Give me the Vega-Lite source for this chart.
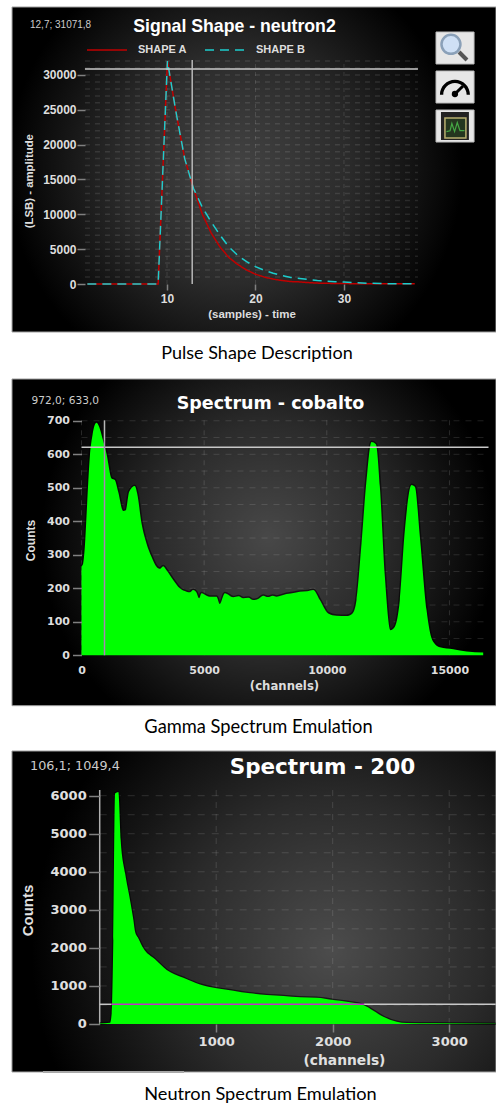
{"$schema":"https://vega.github.io/schema/vega-lite/v6.json","background":"white","padding":0,"autosize":{"type":"none"},"width":496,"height":1105,"config":{"view":{"stroke":null}},
"datasets":{
"pulse":[{"t":1,"a":0,"s":"SHAPE A"},{"t":9,"a":0,"s":"SHAPE A"},{"t":10.05,"a":32000,"s":"SHAPE A"},{"t":11,"a":24800,"s":"SHAPE A"},{"t":12,"a":18000,"s":"SHAPE A"},{"t":13,"a":13700,"s":"SHAPE A"},{"t":14,"a":10000,"s":"SHAPE A"},{"t":15,"a":7300,"s":"SHAPE A"},{"t":16,"a":5300,"s":"SHAPE A"},{"t":17,"a":3800,"s":"SHAPE A"},{"t":18,"a":2800,"s":"SHAPE A"},{"t":19,"a":2000,"s":"SHAPE A"},{"t":20,"a":1400,"s":"SHAPE A"},{"t":21,"a":1000,"s":"SHAPE A"},{"t":22,"a":700,"s":"SHAPE A"},{"t":23,"a":500,"s":"SHAPE A"},{"t":24,"a":350,"s":"SHAPE A"},{"t":25,"a":300,"s":"SHAPE A"},{"t":26,"a":200,"s":"SHAPE A"},{"t":27,"a":130,"s":"SHAPE A"},{"t":28,"a":100,"s":"SHAPE A"},{"t":30,"a":60,"s":"SHAPE A"},{"t":33,"a":30,"s":"SHAPE A"},{"t":38,"a":20,"s":"SHAPE A"},
{"t":1,"a":0,"s":"SHAPE B"},{"t":9,"a":0,"s":"SHAPE B"},{"t":10.05,"a":32000,"s":"SHAPE B"},{"t":11,"a":24800,"s":"SHAPE B"},{"t":12,"a":18000,"s":"SHAPE B"},{"t":13,"a":13700,"s":"SHAPE B"},{"t":14,"a":11000,"s":"SHAPE B"},{"t":15,"a":8900,"s":"SHAPE B"},{"t":16,"a":7000,"s":"SHAPE B"},{"t":17,"a":5300,"s":"SHAPE B"},{"t":18,"a":4100,"s":"SHAPE B"},{"t":19,"a":3200,"s":"SHAPE B"},{"t":20,"a":2500,"s":"SHAPE B"},{"t":21,"a":1950,"s":"SHAPE B"},{"t":22,"a":1550,"s":"SHAPE B"},{"t":23,"a":1200,"s":"SHAPE B"},{"t":24,"a":950,"s":"SHAPE B"},{"t":25,"a":800,"s":"SHAPE B"},{"t":26,"a":650,"s":"SHAPE B"},{"t":27,"a":520,"s":"SHAPE B"},{"t":28,"a":420,"s":"SHAPE B"},{"t":29,"a":340,"s":"SHAPE B"},{"t":30,"a":270,"s":"SHAPE B"},{"t":31,"a":200,"s":"SHAPE B"},{"t":33,"a":100,"s":"SHAPE B"},{"t":35,"a":50,"s":"SHAPE B"},{"t":38,"a":20,"s":"SHAPE B"}],
"cobalt":[{"c":0,"n":265},{"c":68,"n":274},{"c":136,"n":323},{"c":231,"n":453},{"c":340,"n":592},{"c":448,"n":657},{"c":611,"n":694},{"c":720,"n":682},{"c":856,"n":647},{"c":1019,"n":602},{"c":1223,"n":528},{"c":1359,"n":523},{"c":1495,"n":488},{"c":1699,"n":431},{"c":1807,"n":433},{"c":1943,"n":488},{"c":2174,"n":505},{"c":2270,"n":483},{"c":2446,"n":394},{"c":2650,"n":334},{"c":2854,"n":294},{"c":3058,"n":264},{"c":3200,"n":258},{"c":3330,"n":266},{"c":3465,"n":254},{"c":3737,"n":225},{"c":4009,"n":200},{"c":4281,"n":190},{"c":4420,"n":188},{"c":4553,"n":195},{"c":4680,"n":188},{"c":4797,"n":170},{"c":4892,"n":185},{"c":5100,"n":178},{"c":5232,"n":175},{"c":5504,"n":175},{"c":5640,"n":153},{"c":5844,"n":185},{"c":6183,"n":173},{"c":6400,"n":176},{"c":6591,"n":170},{"c":6800,"n":172},{"c":6999,"n":165},{"c":7200,"n":168},{"c":7407,"n":178},{"c":7600,"n":174},{"c":7800,"n":178},{"c":7950,"n":175},{"c":8358,"n":183},{"c":8700,"n":187},{"c":8902,"n":190},{"c":9200,"n":191},{"c":9445,"n":195},{"c":9717,"n":165},{"c":10057,"n":125},{"c":10396,"n":118},{"c":10804,"n":117},{"c":11049,"n":125},{"c":11212,"n":165},{"c":11416,"n":334},{"c":11620,"n":523},{"c":11823,"n":637},{"c":12000,"n":630},{"c":12163,"n":503},{"c":12367,"n":235},{"c":12598,"n":75},{"c":12775,"n":85},{"c":12979,"n":165},{"c":13183,"n":373},{"c":13454,"n":508},{"c":13590,"n":503},{"c":13794,"n":354},{"c":14066,"n":135},{"c":14297,"n":46},{"c":14610,"n":24},{"c":15153,"n":18},{"c":15697,"n":11},{"c":16376,"n":8}],
"neutron":[{"c":0,"n":15},{"c":89,"n":30},{"c":103,"n":280},{"c":117,"n":2200},{"c":132,"n":6060},{"c":160,"n":6100},{"c":180,"n":4835},{"c":218,"n":3960},{"c":260,"n":3260},{"c":289,"n":2730},{"c":303,"n":2430},{"c":332,"n":2250},{"c":375,"n":1990},{"c":475,"n":1700},{"c":575,"n":1420},{"c":718,"n":1215},{"c":861,"n":1040},{"c":1004,"n":940},{"c":1147,"n":876},{"c":1290,"n":806},{"c":1433,"n":762},{"c":1577,"n":736},{"c":1720,"n":700},{"c":1862,"n":692},{"c":2005,"n":630},{"c":2149,"n":570},{"c":2263,"n":500},{"c":2349,"n":350},{"c":2435,"n":190},{"c":2549,"n":60},{"c":2635,"n":26},{"c":2864,"n":18},{"c":3399,"n":9}]
},
"resolve":{"scale":{"x":"independent","y":"independent"},"axis":{"x":"independent","y":"independent"}},
"layer":[
{"data":{"values":[{}]},"layer":[
{"mark":{"type":"rect","stroke":"#a0a0a0","strokeWidth":1,"fill":{"gradient":"radial","x1":0.46,"y1":0.5,"r1":0,"x2":0.46,"y2":0.5,"r2":0.47,"stops":[{"offset":0,"color":"#444444"},{"offset":0.5,"color":"#2b2b2b"},{"offset":1,"color":"#000000"}]}},"encoding":{"x":{"datum":-7.51,"type":"quantitative","scale":{"domain":[-8.87,47.18]}},"x2":{"datum":47.18},"y":{"datum":39760,"type":"quantitative","scale":{"domain":[-117840,40764]}},"y2":{"datum":-6890}}},
{"data":{"values":[{"g":1000},{"g":2000},{"g":3000},{"g":4000},{"g":5000},{"g":6000},{"g":7000},{"g":8000},{"g":9000},{"g":10000},{"g":11000},{"g":12000},{"g":13000},{"g":14000},{"g":15000},{"g":16000},{"g":17000},{"g":18000},{"g":19000},{"g":20000},{"g":21000},{"g":22000},{"g":23000},{"g":24000},{"g":25000},{"g":26000},{"g":27000},{"g":28000},{"g":29000},{"g":30000},{"g":31000},{"g":32000}]},"mark":{"type":"rule","color":"#ffffff","opacity":0.1,"strokeWidth":1.5,"strokeDash":[5,5]},"encoding":{"x":{"datum":0.73,"type":"quantitative","scale":{"domain":[-8.87,47.18]}},"x2":{"datum":38.36},"y":{"field":"g","type":"quantitative","scale":{"domain":[-117840,40764]}}}},
{"data":{"values":[{"g":10},{"g":20},{"g":30}]},"mark":{"type":"rule","color":"#ffffff","opacity":0.12,"strokeDash":[4,4]},"encoding":{"x":{"field":"g","type":"quantitative","scale":{"domain":[-8.87,47.18]}},"y":{"datum":0,"type":"quantitative","scale":{"domain":[-117840,40764]}},"y2":{"datum":32150}}},
{"data":{"name":"pulse"},"mark":{"type":"line","strokeWidth":1.5},"encoding":{"x":{"field":"t","type":"quantitative","scale":{"domain":[-8.87,47.18]},"axis":{"zindex":1,"orient":"bottom","offset":-821,"title":"(samples) - time","titleX":251.5,"titleY":30.7,"titleAlign":"center","titleBaseline":"middle","values":[10,20,30],"grid":false,"domain":false,"tickSize":6,"tickColor":"#808080","tickWidth":1.5,"labelColor":"#dddddd","labelFont":"Liberation Sans","labelFontWeight":"bold","labelFontSize":12,"labelPadding":3,"titleColor":"#dddddd","titleFont":"Liberation Sans","titleFontWeight":"bold","titleFontSize":11.5}},"y":{"field":"a","type":"quantitative","scale":{"domain":[-117840,40764]},"axis":{"zindex":1,"orient":"left","offset":-85,"title":"(LSB) - amplitude","titleX":-56,"titleY":180.7,"titleAlign":"center","titleBaseline":"middle","values":[0,5000,10000,15000,20000,25000,30000],"format":"d","grid":false,"domain":false,"tickSize":8,"tickColor":"#808080","tickWidth":1.5,"labelColor":"#dddddd","labelFont":"Liberation Sans","labelFontWeight":"bold","labelFontSize":12,"labelPadding":1,"titleColor":"#dddddd","titleFont":"Liberation Sans","titleFontWeight":"bold","titleFontSize":11.4}},"color":{"field":"s","type":"nominal","scale":{"domain":["SHAPE A","SHAPE B"],"range":["#c00000","#1ccdcd"]},"legend":{"title":null,"orient":"none","legendX":86,"legendY":29,"direction":"horizontal","symbolType":"stroke","symbolSize":1600,"symbolStrokeWidth":1.5,"labelColor":"#dddddd","labelFont":"Liberation Sans","labelFontWeight":"bold","labelFontSize":11,"labelOffset":10,"columnPadding":15,"zindex":1}},"strokeDash":{"field":"s","type":"nominal","scale":{"domain":["SHAPE A","SHAPE B"],"range":[[1,0],[9,6]]},"legend":{"title":null,"orient":"none","legendX":86,"legendY":29,"direction":"horizontal","symbolType":"stroke","symbolSize":1600,"symbolStrokeWidth":1.5,"labelColor":"#dddddd","labelFont":"Liberation Sans","labelFontWeight":"bold","labelFontSize":11,"labelOffset":10,"columnPadding":15,"zindex":1}}}},
{"mark":{"type":"rule","color":"#c8c8c8","strokeWidth":1.5},"encoding":{"x":{"datum":0.73,"type":"quantitative","scale":{"domain":[-8.87,47.18]}},"x2":{"datum":38.36},"y":{"datum":30860,"type":"quantitative","scale":{"domain":[-117840,40764]}}}},
{"mark":{"type":"rule","color":"#b8b8b8","strokeWidth":1.5},"encoding":{"x":{"datum":12.85,"type":"quantitative","scale":{"domain":[-8.87,47.18]}},"y":{"datum":0,"type":"quantitative","scale":{"domain":[-117840,40764]}},"y2":{"datum":32150}}},
{"mark":{"type":"text","color":"white","font":"Liberation Sans","fontWeight":"bold","fontSize":17.7,"baseline":"middle"},"encoding":{"text":{"value":"Signal Shape - neutron2"},"x":{"datum":17.63,"type":"quantitative","scale":{"domain":[-8.87,47.18]}},"y":{"datum":36890,"type":"quantitative","scale":{"domain":[-117840,40764]}}}},
{"mark":{"type":"text","color":"#cccccc","font":"Liberation Sans","fontSize":10,"align":"left","baseline":"middle"},"encoding":{"text":{"value":"12,7; 31071,8"},"x":{"datum":-5.48,"type":"quantitative","scale":{"domain":[-8.87,47.18]}},"y":{"datum":37170,"type":"quantitative","scale":{"domain":[-117840,40764]}}}},
{"mark":{"type":"text","color":"black","font":"Lato","fontSize":18,"baseline":"middle"},"encoding":{"text":{"value":"Pulse Shape Description"},"x":{"datum":20.17,"type":"quantitative","scale":{"domain":[-8.87,47.18]}},"y":{"datum":-10047,"type":"quantitative","scale":{"domain":[-117840,40764]}}}},
{"data":{"values":[{"x0":40.4,"x1":44.7,"y0":36170,"y1":31580},{"x0":40.4,"x1":44.7,"y0":30570,"y1":25980},{"x0":40.4,"x1":44.7,"y0":24975,"y1":20380}]},"mark":{"type":"rect","fill":"#e6e6e6","stroke":"#bbbbbb"},"encoding":{"x":{"field":"x0","type":"quantitative","scale":{"domain":[-8.87,47.18]}},"x2":{"field":"x1"},"y":{"field":"y0","type":"quantitative","scale":{"domain":[-117840,40764]}},"y2":{"field":"y1"}}},
{"mark":{"type":"rule","color":"#555555","strokeWidth":4},"encoding":{"x":{"datum":43.0,"type":"quantitative","scale":{"domain":[-8.87,47.18]}},"x2":{"datum":43.9},"y":{"datum":33300,"type":"quantitative","scale":{"domain":[-117840,40764]}},"y2":{"datum":32150}}},
{"mark":{"type":"point","shape":"circle","size":360,"fill":"#cfe0f5","stroke":"#8aa0b8","strokeWidth":2.5,"opacity":1},"encoding":{"x":{"datum":42.09,"type":"quantitative","scale":{"domain":[-8.87,47.18]}},"y":{"datum":34400,"type":"quantitative","scale":{"domain":[-117840,40764]}}}},
{"mark":{"type":"point","shape":"M-1,0.25 A1,1 0 1 1 1,0.25 L0.78,0.25 A0.78,0.78 0 1 0 -0.78,0.25 Z","size":900,"filled":true,"color":"#000000","opacity":1},"encoding":{"x":{"datum":42.54,"type":"quantitative","scale":{"domain":[-8.87,47.18]}},"y":{"datum":27700,"type":"quantitative","scale":{"domain":[-117840,40764]}}}},
{"mark":{"type":"rule","color":"#000000","strokeWidth":3},"encoding":{"x":{"datum":42.54,"type":"quantitative","scale":{"domain":[-8.87,47.18]}},"x2":{"datum":43.45},"y":{"datum":27270,"type":"quantitative","scale":{"domain":[-117840,40764]}},"y2":{"datum":28420}}},
{"mark":{"type":"point","shape":"circle","size":40,"filled":true,"color":"#000000","opacity":1},"encoding":{"x":{"datum":42.54,"type":"quantitative","scale":{"domain":[-8.87,47.18]}},"y":{"datum":27270,"type":"quantitative","scale":{"domain":[-117840,40764]}}}},
{"mark":{"type":"rect","fill":"#222222"},"encoding":{"x":{"datum":40.96,"type":"quantitative","scale":{"domain":[-8.87,47.18]}},"x2":{"datum":44.12},"y":{"datum":24690,"type":"quantitative","scale":{"domain":[-117840,40764]}},"y2":{"datum":20670}}},
{"mark":{"type":"rect","fill":"#24361f","stroke":"#b8b070","strokeWidth":1.5},"encoding":{"x":{"datum":41.41,"type":"quantitative","scale":{"domain":[-8.87,47.18]}},"x2":{"datum":43.78},"y":{"datum":23830,"type":"quantitative","scale":{"domain":[-117840,40764]}},"y2":{"datum":20960}}},
{"mark":{"type":"point","shape":"M-1,0.4 L-0.6,0.3 L-0.4,-0.5 L-0.1,0.4 L0.2,-0.6 L0.5,0.3 L1,0.3","size":324,"filled":false,"stroke":"#45a845","strokeWidth":1.2,"opacity":1},"encoding":{"x":{"datum":42.6,"type":"quantitative","scale":{"domain":[-8.87,47.18]}},"y":{"datum":22390,"type":"quantitative","scale":{"domain":[-117840,40764]}}}}
]},
{"data":{"values":[{}]},"layer":[
{"mark":{"type":"rect","stroke":"#a0a0a0","strokeWidth":1,"fill":{"gradient":"radial","x1":0.53,"y1":0.49,"r1":0,"x2":0.53,"y2":0.49,"r2":0.47,"stops":[{"offset":0,"color":"#484848"},{"offset":0.5,"color":"#2b2b2b"},{"offset":1,"color":"#000000"}]}},"encoding":{"x":{"datum":-2833,"type":"quantitative","scale":{"domain":[-3322,16898]}},"x2":{"datum":16898},"y":{"datum":824.8,"type":"quantitative","scale":{"domain":[-1342.4,1956.1]}},"y2":{"datum":-150.4}}},
{"data":{"values":[{"g":50},{"g":100},{"g":150},{"g":200},{"g":250},{"g":300},{"g":350},{"g":400},{"g":450},{"g":500},{"g":550},{"g":600},{"g":650},{"g":700}]},"mark":{"type":"rule","color":"#ffffff","opacity":0.12,"strokeDash":[6,6]},"encoding":{"x":{"datum":0,"type":"quantitative","scale":{"domain":[-3322,16898]}},"x2":{"datum":16592},"y":{"field":"g","type":"quantitative","scale":{"domain":[-1342.4,1956.1]}}}},
{"data":{"values":[{"g":0},{"g":5000},{"g":10000},{"g":15000}]},"mark":{"type":"rule","color":"#ffffff","opacity":0.14,"strokeDash":[5,5]},"encoding":{"x":{"field":"g","type":"quantitative","scale":{"domain":[-3322,16898]}},"y":{"datum":0,"type":"quantitative","scale":{"domain":[-1342.4,1956.1]}},"y2":{"datum":701.5}}},
{"data":{"name":"cobalt"},"mark":{"type":"line","color":"#000000","strokeWidth":3,"opacity":0.6,"interpolate":"monotone"},"encoding":{"x":{"field":"c","type":"quantitative","scale":{"domain":[-3322,16898]}},"y":{"field":"n","type":"quantitative","scale":{"domain":[-1342.4,1956.1]}}}},
{"data":{"name":"cobalt"},"mark":{"type":"area","color":"#00ff00","opacity":1,"interpolate":"monotone"},"encoding":{"x":{"field":"c","type":"quantitative","scale":{"domain":[-3322,16898]},"axis":{"zindex":1,"orient":"bottom","offset":-449.7,"title":"(channels)","titleX":284,"titleY":29.7,"titleAlign":"center","titleBaseline":"middle","values":[0,5000,10000,15000],"format":"d","grid":false,"domain":false,"ticks":false,"tickSize":0,"labelColor":"#dddddd","labelFont":"DejaVu Sans","labelFontWeight":"bold","labelFontSize":11,"labelPadding":9,"titleColor":"#dddddd","titleFont":"DejaVu Sans","titleFontWeight":"bold","titleFontSize":11.7}},"y":{"field":"n","type":"quantitative","scale":{"domain":[-1342.4,1956.1]},"axis":{"zindex":1,"orient":"left","offset":-81.5,"title":"Counts","titleX":-51.5,"titleY":540,"titleAlign":"center","titleBaseline":"middle","values":[0,100,200,300,400,500,600,700],"format":"d","grid":false,"domain":false,"tickSize":9,"tickColor":"#808080","tickWidth":1.5,"labelColor":"#dddddd","labelFont":"DejaVu Sans","labelFontWeight":"bold","labelFontSize":11,"labelPadding":3,"titleColor":"#dddddd","titleFont":"Liberation Sans","titleFontWeight":"bold","titleFontSize":12}}}},
{"mark":{"type":"rule","color":"#c8c8c8","strokeWidth":1.5},"encoding":{"x":{"datum":0,"type":"quantitative","scale":{"domain":[-3322,16898]}},"x2":{"datum":16592},"y":{"datum":621,"type":"quantitative","scale":{"domain":[-1342.4,1956.1]}}}},
{"mark":{"type":"rule","color":"#b8b8b8","strokeWidth":1.5},"encoding":{"x":{"datum":938,"type":"quantitative","scale":{"domain":[-3322,16898]}},"y":{"datum":701.5,"type":"quantitative","scale":{"domain":[-1342.4,1956.1]}},"y2":{"datum":640}}},
{"mark":{"type":"rule","color":"#a884b4","strokeWidth":1.5},"encoding":{"x":{"datum":938,"type":"quantitative","scale":{"domain":[-3322,16898]}},"y":{"datum":640,"type":"quantitative","scale":{"domain":[-1342.4,1956.1]}},"y2":{"datum":0}}},
{"mark":{"type":"text","color":"white","font":"DejaVu Sans","fontWeight":"bold","fontSize":17.5,"baseline":"middle"},"encoding":{"text":{"value":"Spectrum - cobalto"},"x":{"datum":7705,"type":"quantitative","scale":{"domain":[-3322,16898]}},"y":{"datum":751,"type":"quantitative","scale":{"domain":[-1342.4,1956.1]}}}},
{"mark":{"type":"text","color":"#cccccc","font":"DejaVu Sans","fontSize":10.6,"align":"left","baseline":"middle"},"encoding":{"text":{"value":"972,0; 633,0"},"x":{"datum":-2038,"type":"quantitative","scale":{"domain":[-3322,16898]}},"y":{"datum":759,"type":"quantitative","scale":{"domain":[-1342.4,1956.1]}}}},
{"mark":{"type":"text","color":"black","font":"Lato","fontSize":18.3,"baseline":"middle"},"encoding":{"text":{"value":"Gamma Spectrum Emulation"},"x":{"datum":7216,"type":"quantitative","scale":{"domain":[-3322,16898]}},"y":{"datum":-218,"type":"quantitative","scale":{"domain":[-1342.4,1956.1]}}}}
]},
{"data":{"values":[{}]},"layer":[
{"mark":{"type":"rect","stroke":"#a0a0a0","strokeWidth":1,"fill":{"gradient":"radial","x1":0.66,"y1":0.58,"r1":0,"x2":0.66,"y2":0.58,"r2":0.62,"stops":[{"offset":0,"color":"#4c4c4c"},{"offset":0.5,"color":"#2b2b2b"},{"offset":1,"color":"#000000"}]}},"encoding":{"x":{"datum":-753,"type":"quantitative","scale":{"domain":[-855.8,3401.7]}},"x2":{"datum":3401.7},"y":{"datum":7175,"type":"quantitative","scale":{"domain":[-2128.8,26912]}},"y2":{"datum":-1261.5}}},
{"mark":{"type":"rule","color":"#a8a8a8","strokeWidth":2},"encoding":{"x":{"datum":-487,"type":"quantitative","scale":{"domain":[-855.8,3401.7]}},"x2":{"datum":724},"y":{"datum":-1261.5,"type":"quantitative","scale":{"domain":[-2128.8,26912]}}}},
{"data":{"values":[{"g":500},{"g":1000},{"g":1500},{"g":2000},{"g":2500},{"g":3000},{"g":3500},{"g":4000},{"g":4500},{"g":5000},{"g":5500},{"g":6000}]},"mark":{"type":"rule","color":"#ffffff","opacity":0.13,"strokeDash":[7,7]},"encoding":{"x":{"datum":0,"type":"quantitative","scale":{"domain":[-855.8,3401.7]}},"x2":{"datum":3399},"y":{"field":"g","type":"quantitative","scale":{"domain":[-2128.8,26912]}}}},
{"data":{"values":[{"g":1000},{"g":2000},{"g":3000}]},"mark":{"type":"rule","color":"#ffffff","opacity":0.13,"strokeDash":[6,6]},"encoding":{"x":{"field":"g","type":"quantitative","scale":{"domain":[-855.8,3401.7]}},"y":{"datum":0,"type":"quantitative","scale":{"domain":[-2128.8,26912]}},"y2":{"datum":6150}}},
{"mark":{"type":"rule","color":"#b0b0b0","strokeWidth":1.5},"encoding":{"x":{"datum":0,"type":"quantitative","scale":{"domain":[-855.8,3401.7]}},"y":{"datum":0,"type":"quantitative","scale":{"domain":[-2128.8,26912]}},"y2":{"datum":6150}}},
{"data":{"name":"neutron"},"mark":{"type":"line","color":"#000000","strokeWidth":2.5,"opacity":0.6,"interpolate":"monotone"},"encoding":{"x":{"field":"c","type":"quantitative","scale":{"domain":[-855.8,3401.7]}},"y":{"field":"n","type":"quantitative","scale":{"domain":[-2128.8,26912]}}}},
{"data":{"name":"neutron"},"mark":{"type":"area","color":"#00ff00","opacity":1,"interpolate":"monotone"},"encoding":{"x":{"field":"c","type":"quantitative","scale":{"domain":[-855.8,3401.7]},"axis":{"zindex":1,"orient":"bottom","offset":-81,"title":"(channels)","titleX":344,"titleY":36.7,"titleAlign":"center","titleBaseline":"middle","values":[1000,2000,3000],"format":"d","grid":false,"domain":false,"tickSize":8,"tickColor":"#808080","tickWidth":1.5,"labelColor":"#e0e0e0","labelFont":"DejaVu Sans","labelFontWeight":"bold","labelFontSize":13,"labelPadding":3,"titleColor":"#e0e0e0","titleFont":"DejaVu Sans","titleFontWeight":"bold","titleFontSize":13.8}},"y":{"field":"n","type":"quantitative","scale":{"domain":[-2128.8,26912]},"axis":{"zindex":1,"orient":"left","offset":-99.7,"title":"Counts","titleX":-72,"titleY":910,"titleAlign":"center","titleBaseline":"middle","values":[0,1000,2000,3000,4000,5000,6000],"format":"d","grid":false,"domain":false,"tickSize":11,"tickColor":"#808080","tickWidth":1.5,"labelColor":"#e0e0e0","labelFont":"DejaVu Sans","labelFontWeight":"bold","labelFontSize":13,"labelPadding":2.5,"titleColor":"#e0e0e0","titleFont":"Liberation Sans","titleFontWeight":"bold","titleFontSize":15}}}},
{"mark":{"type":"rule","color":"#c030c8","strokeWidth":1.5},"encoding":{"x":{"datum":100,"type":"quantitative","scale":{"domain":[-855.8,3401.7]}},"x2":{"datum":2270},"y":{"datum":518,"type":"quantitative","scale":{"domain":[-2128.8,26912]}}}},
{"mark":{"type":"rule","color":"#c8c8c8","strokeWidth":1.5},"encoding":{"x":{"datum":0,"type":"quantitative","scale":{"domain":[-855.8,3401.7]}},"x2":{"datum":100},"y":{"datum":518,"type":"quantitative","scale":{"domain":[-2128.8,26912]}}}},
{"mark":{"type":"rule","color":"#c8c8c8","strokeWidth":1.5},"encoding":{"x":{"datum":2270,"type":"quantitative","scale":{"domain":[-855.8,3401.7]}},"x2":{"datum":3399},"y":{"datum":518,"type":"quantitative","scale":{"domain":[-2128.8,26912]}}}},
{"mark":{"type":"text","color":"white","font":"DejaVu Sans","fontWeight":"bold","fontSize":21.5,"baseline":"middle"},"encoding":{"text":{"value":"Spectrum - 200"},"x":{"datum":1912,"type":"quantitative","scale":{"domain":[-855.8,3401.7]}},"y":{"datum":6720,"type":"quantitative","scale":{"domain":[-2128.8,26912]}}}},
{"mark":{"type":"text","color":"#cccccc","font":"DejaVu Sans","fontSize":12.8,"align":"left","baseline":"middle"},"encoding":{"text":{"value":"106,1; 1049,4"},"x":{"datum":-598,"type":"quantitative","scale":{"domain":[-855.8,3401.7]}},"y":{"datum":6780,"type":"quantitative","scale":{"domain":[-2128.8,26912]}}}},
{"mark":{"type":"text","color":"black","font":"Lato","fontSize":18.2,"baseline":"middle"},"encoding":{"text":{"value":"Neutron Spectrum Emulation"},"x":{"datum":1380,"type":"quantitative","scale":{"domain":[-855.8,3401.7]}},"y":{"datum":-1866,"type":"quantitative","scale":{"domain":[-2128.8,26912]}}}}
]}
]}
